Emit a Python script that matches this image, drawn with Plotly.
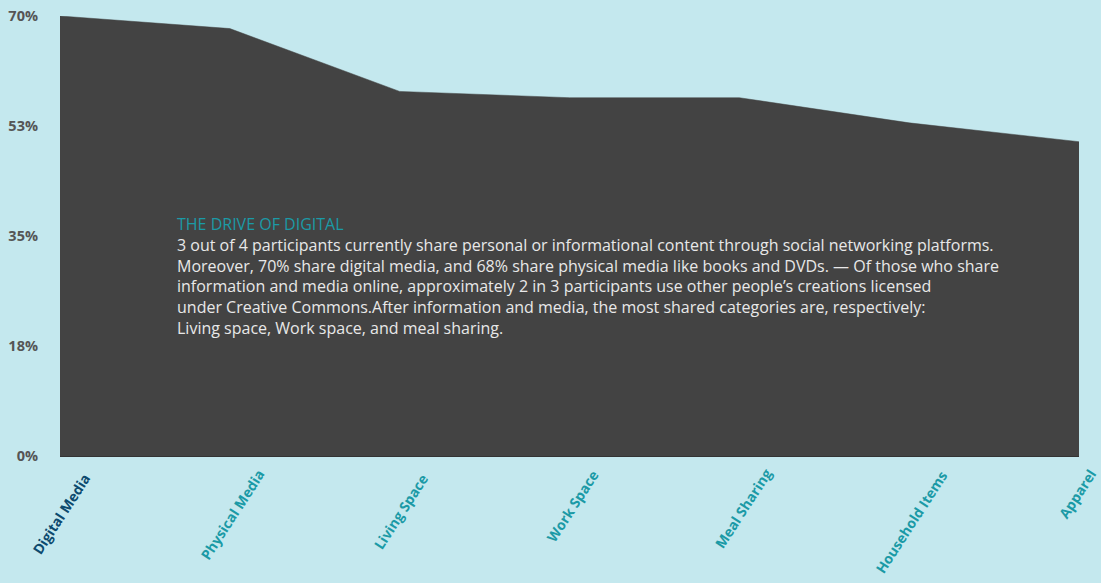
import plotly.graph_objects as go

categories = ["Digital Media", "Physical Media", "Living Space", "Work Space",
              "Meal Sharing", "Household Items", "Apparel"]
share_pct = [70, 68, 58, 57, 57, 53, 50]
tick_vals = [0, 17.5, 35, 52.5, 70]
tick_text = ["0%", "18%", "35%", "53%", "70%"]
label_colors = ["#0d4a6e"] + ["#1b9aa6"] * 6

# styling: pixel nudges of the rotated category labels (Excel-like placement)
label_dx = [35, 40, 34, 34, 38, 43, 23]
label_dy = [13, 8, 13, 10, 8, 10, 8]

BG = "#c4e8ee"
FILL = "#434343"
FONT = "Open Sans"

fig = go.Figure()
fig.add_trace(go.Scatter(
    x=list(range(len(categories))), y=share_pct,
    mode="lines", fill="tozeroy", fillcolor=FILL,
    line=dict(color=FILL, width=0.5),
    hoverinfo="skip", showlegend=False,
))

for i, (cat, col) in enumerate(zip(categories, label_colors)):
    fig.add_annotation(
        x=i, y=0, xref="x", yref="y",
        xanchor="right", yanchor="top",
        xshift=label_dx[i], yshift=-label_dy[i],
        text=cat, textangle=-57, showarrow=False, borderpad=0,
        font=dict(family=FONT, size=14, color=col, weight="bold"),
    )

fig.update_xaxes(
    range=[0, len(categories) - 1],
    tickvals=list(range(len(categories))), showticklabels=False,
    showgrid=False, zeroline=False,
    showline=True, linecolor="#333333", linewidth=1,
    automargin=False,
)
fig.update_yaxes(
    range=[0, 70], tickvals=tick_vals, ticktext=tick_text,
    showgrid=False, zeroline=False, showline=False,
    tickfont=dict(family=FONT, size=14.5, color="#555555", weight="bold"),
    ticklabelstandoff=21, automargin=False,
)

body = ("<span style='color:#1b9aa6'>THE DRIVE OF DIGITAL</span><br>"
        "3 out of 4 participants currently share personal or informational content through social networking platforms.<br>"
        "Moreover, 70% share digital media, and 68% share physical media like books and DVDs. \u2014 Of those who share<br>"
        "information and media online, approximately 2 in 3 participants use other people\u2019s creations licensed<br>"
        "under Creative Commons.After information and media, the most shared categories are, respectively:<br>"
        "Living space, Work space, and meal sharing.")

fig.add_annotation(
    xref="paper", yref="paper", x=(175 - 60) / 1019, y=(456 - 211) / 440,
    xanchor="left", yanchor="top", align="left", showarrow=False,
    text=body, font=dict(family=FONT, size=16, color="#e8e8e8"),
)

fig.update_layout(
    width=1101, height=583,
    margin=dict(l=60, r=22, t=16, b=127),
    paper_bgcolor=BG, plot_bgcolor=BG,
    font=dict(family=FONT),
)

fig.write_html(
    "out.html",
    config={"displayModeBar": False},
    post_script="document.body.style.margin='0';document.body.style.background='#c4e8ee';document.body.style.overflow='hidden';",
)
